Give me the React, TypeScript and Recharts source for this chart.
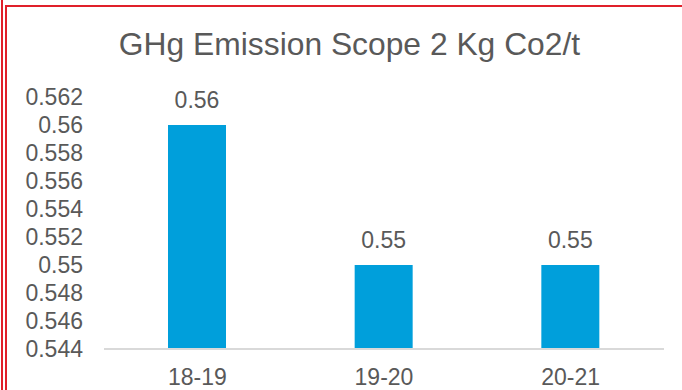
import React from "react";
import { BarChart, Bar, XAxis, YAxis, LabelList } from "recharts";

const categories = ["18-19", "19-20", "20-21"];
const values = [0.56, 0.55, 0.55];
const yTicks = [0.544, 0.546, 0.548, 0.55, 0.552, 0.554, 0.556, 0.558, 0.56, 0.562];
const title = "GHg Emission Scope 2 Kg Co2/t";

const data = categories.map((c, i) => ({ name: c, value: values[i] }));

const FONT = "'Liberation Sans', Arial, sans-serif";
const TEXT = "#595959";
const RED = "#E0202A";

export default function App() {
  return (
    <div style={{ position: "absolute", left: 0, top: 0, width: 682, height: 390, background: "#fff", overflow: "hidden", fontFamily: FONT }}>
      <div style={{ position: "absolute", left: 1, top: 0, width: 1.5, height: 390, background: RED }} />
      <div style={{ position: "absolute", left: 5, top: 5, width: 2, height: 385, background: RED }} />
      <div style={{ position: "absolute", left: 5, top: 5, width: 677, height: 2, background: RED }} />
      <div style={{ position: "absolute", left: 0, top: 0 }}>
        <BarChart width={682} height={390} data={data} margin={{ top: 97, right: 18, bottom: 0, left: 0 }}>
          <text x={349.5} y={55} textAnchor="middle" fontSize={31.8} fill={TEXT} fontFamily={FONT}>{title}</text>
          <XAxis
            dataKey="name"
            height={41}
            tickLine={false}
            tickSize={0}
            tickMargin={20}
            axisLine={{ stroke: "#d9d9d9", strokeWidth: 2 }}
            tick={{ fill: TEXT, fontSize: 23, fontFamily: FONT }}
            interval={0}
          />
          <YAxis
            width={104}
            domain={[0.544, 0.562]}
            ticks={yTicks}
            allowDataOverflow
            axisLine={false}
            tickLine={false}
            tickSize={0}
            tickMargin={21}
            interval={0}
            tickFormatter={(v: number) => String(Number(v.toFixed(3)))}
            tick={{ fill: TEXT, fontSize: 23, fontFamily: FONT }}
          />
          <Bar dataKey="value" fill="#009FDB" barSize={58} isAnimationActive={false}>
            <LabelList dataKey="value" position="top" offset={17} fill={TEXT} fontSize={23} fontFamily={FONT} />
          </Bar>
        </BarChart>
      </div>
    </div>
  );
}
